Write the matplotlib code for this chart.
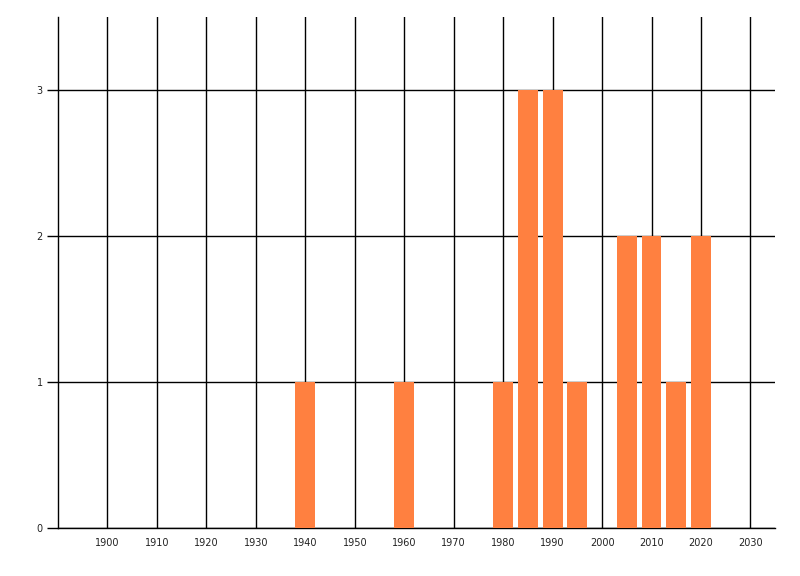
import matplotlib
matplotlib.use("Agg")
import matplotlib.pyplot as plt

years = [1940, 1960, 1980, 1985, 1990, 1995, 2005, 2010, 2015, 2020]
counts = [1, 1, 1, 3, 3, 1, 2, 2, 1, 2]
xticks = list(range(1900, 2031, 10))
yticks = [0, 1, 2, 3]

fig = plt.figure(figsize=(8, 5.76), dpi=100)
ax = fig.add_axes([0.0725, 0.0833, 0.8965, 0.8872])

ax.bar(years, counts, width=4, color="#ff8040", zorder=3)

ax.set_xlim(1890, 2035)
ax.set_ylim(0, 3.5)
ax.set_xticks(xticks)
ax.set_yticks(yticks)

ax.grid(True, color="black", linewidth=1.0, zorder=0)
ax.set_axisbelow(True)

for s in ["top", "right"]:
    ax.spines[s].set_visible(False)
for s in ["left", "bottom"]:
    ax.spines[s].set_linewidth(1.0)

ax.tick_params(axis="x", length=0, labelsize=7, pad=7, labelcolor="#222222")
ax.tick_params(axis="y", length=8, width=1.0, labelsize=7, pad=3, labelcolor="#222222")

fig.savefig("out.png", dpi=100)
